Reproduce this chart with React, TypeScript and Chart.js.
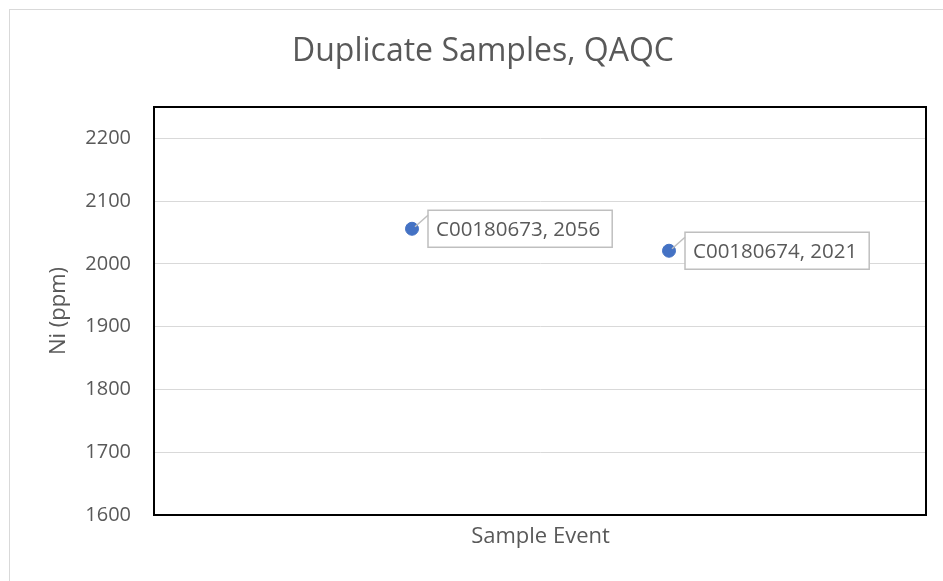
import { useEffect, useRef } from "react";
import { Chart, registerables } from "chart.js";

Chart.register(...registerables);

const sampleIds = ["C00180673", "C00180674"];
const sampleEvents = [1, 2];
const niValues = [2056, 2021];
const yTickValues = [1600, 1700, 1800, 1900, 2000, 2100, 2200];
const yMin = 1600;
const yMax = 2250;
const xMin = 0;
const xMax = 3;

const FONT = "'Open Sans', 'Noto Sans', sans-serif";
const TEXT = "#595959";

const decorPlugin = {
  id: "decor",
  beforeDraw(chart: any) {
    const { ctx, width, height } = chart;
    ctx.save();
    ctx.fillStyle = "#ffffff";
    ctx.fillRect(0, 0, width, height);
    ctx.strokeStyle = "#d9d9d9";
    ctx.lineWidth = 1;
    ctx.strokeRect(9.5, 9.5, width + 50, height + 50);
    ctx.restore();
  },
  beforeDatasetsDraw(chart: any) {
    const { ctx, chartArea } = chart;
    ctx.save();
    ctx.strokeStyle = "#000000";
    ctx.lineWidth = 2;
    ctx.strokeRect(
      chartArea.left - 1,
      chartArea.top,
      chartArea.right - chartArea.left + 1,
      chartArea.bottom - chartArea.top
    );
    ctx.restore();
  },
  afterDatasetsDraw(chart: any) {
    const { ctx } = chart;
    const meta = chart.getDatasetMeta(0);
    ctx.save();
    ctx.font = `20.5px ${FONT}`;
    ctx.textBaseline = "middle";
    ctx.textAlign = "left";
    meta.data.forEach((pt: any, i: number) => {
      const text = `${sampleIds[i]}, ${niValues[i]}`;
      const tw = ctx.measureText(text).width;
      const left = pt.x + 16;
      const h = 37;
      const top = pt.y - h / 2;
      const w = tw + 20;
      ctx.fillStyle = "#ffffff";
      ctx.fillRect(left, top, w, h);
      ctx.strokeStyle = "#bfbfbf";
      ctx.lineWidth = 1.5;
      ctx.strokeRect(left, top, w, h);
      ctx.beginPath();
      ctx.moveTo(pt.x + 3, pt.y - 2);
      ctx.lineTo(left, top + 5);
      ctx.stroke();
      ctx.fillStyle = TEXT;
      ctx.fillText(text, left + 8, pt.y + 1);
    });
    ctx.restore();
  },
};

export default function App() {
  const ref = useRef<HTMLCanvasElement | null>(null);

  useEffect(() => {
    document.body.style.margin = "0";
    const canvas = ref.current;
    if (!canvas) return;
    const chart = new Chart(canvas, {
      type: "scatter",
      data: {
        datasets: [
          {
            label: "Ni (ppm)",
            data: sampleEvents.map((x, i) => ({ x, y: niValues[i] })),
            backgroundColor: "#4472C4",
            borderColor: "#4472C4",
            pointRadius: 6.5,
            borderWidth: 1,
          },
        ],
      },
      options: {
        animation: false,
        responsive: false,
        devicePixelRatio: 1,
        layout: { padding: { left: 40, right: 17, top: 0, bottom: 0 } },
        plugins: {
          legend: { display: false },
          tooltip: { enabled: false },
          title: {
            display: true,
            text: "Duplicate Samples, QAQC",
            color: TEXT,
            font: { family: FONT, size: 32, weight: "normal" },
            padding: { top: 33, bottom: 35.6 },
          },
        },
        scales: {
          x: {
            type: "linear",
            min: xMin,
            max: xMax,
            ticks: { display: false },
            grid: { display: false },
            border: { display: false },
            title: {
              display: true,
              text: "Sample Event",
              color: TEXT,
              font: { family: FONT, size: 22 },
              padding: { top: 0, bottom: 31 },
            },
            afterFit: (s: any) => {
              s.height = 66;
            },
          },
          y: {
            type: "linear",
            min: yMin,
            max: yMax,
            afterBuildTicks: (s: any) => {
              s.ticks = yTickValues.map((v) => ({ value: v }));
            },
            ticks: {
              color: TEXT,
              font: { family: FONT, size: 20 },
              padding: 24,
              callback: (v: any) => String(v),
            },
            grid: { color: "#d9d9d9", lineWidth: 1, drawTicks: false },
            border: { display: false },
            title: {
              display: true,
              text: "Ni (ppm)",
              color: TEXT,
              font: { family: FONT, size: 22 },
              padding: { top: 6, bottom: 0 },
            },
            afterFit: (s: any) => {
              s.width = 115;
            },
          },
        },
      },
      plugins: [decorPlugin],
    });
    return () => chart.destroy();
  }, []);

  return (
    <div style={{ width: 943, height: 581 }}>
      <canvas ref={ref} width={943} height={581} style={{ display: "block" }} />
    </div>
  );
}
